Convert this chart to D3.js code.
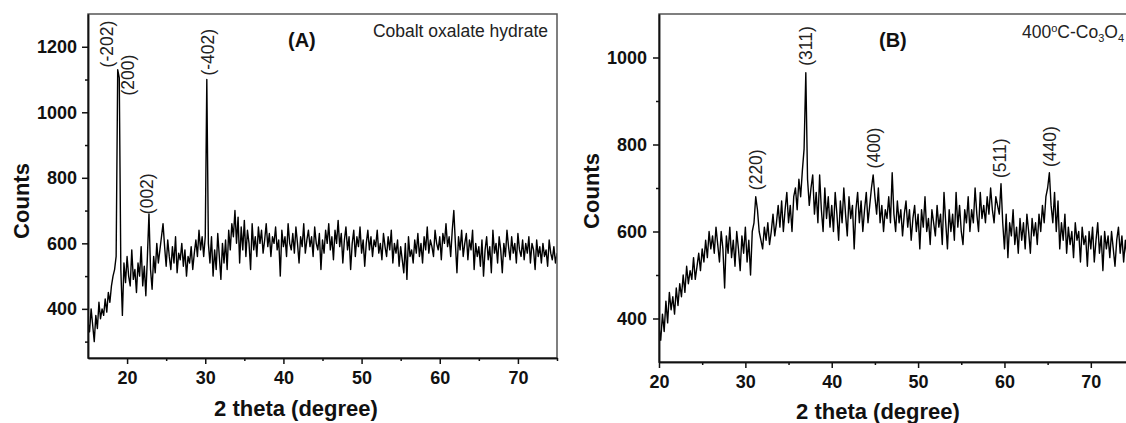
<!DOCTYPE html>
<html>
  <head>
    <meta charset="utf-8">
    <title>XRD patterns</title>
    <script src="https://d3js.org/d3.v7.min.js"></script>
    <style>
      body { margin: 0; background: #fff; }
      svg { display: block; font-family: "Liberation Sans", Arial, sans-serif; }
      .axis text { font-size: 18px; font-weight: bold; fill: #111; }
      .axis line, .axis path { stroke: #111; stroke-width: 1.5; }
      .axisTitle { font-size: 22px; font-weight: bold; fill: #111; }
      .panelTag { font-size: 20px; font-weight: bold; fill: #111; }
      .note, .peak { font-size: 17.5px; fill: #222; }
    </style>
  </head>
  <body>
    <svg id="chart" width="1126" height="423"></svg>
    <script>
      // panel A - cobalt oxalate hydrate, scan starts at 15 deg, 0.2 deg steps
      const startA = 15, stepA = 0.2;
      const countsA = [
        360, 330, 400, 350, 300, 380, 340, 420, 370, 400,
        380, 430, 390, 450, 420, 470, 500, 520, 560, 1130,
        1105, 520, 380, 540, 480, 560, 500, 470, 580, 490,
        520, 450, 540, 500, 590, 470, 530, 440, 560, 690,
        520, 460, 560, 510, 600, 540, 580, 620, 660, 590,
        530, 610, 560, 520, 590, 540, 620, 510, 570, 550,
        600, 530, 580, 500, 560, 540, 590, 520, 570, 610,
        560, 640, 580, 620, 560, 620, 1100, 600, 540, 620,
        500, 580, 520, 630, 560, 490, 600, 540, 610, 520,
        640, 580, 660, 620, 700, 600, 680, 540, 650, 580,
        670, 560, 640, 600, 520, 660, 580, 620, 560, 650,
        600, 640, 570, 610, 660, 590, 630, 560, 620, 600,
        650, 580, 610, 500, 640, 590, 620, 560, 660, 600,
        580, 630, 570, 650, 600, 540, 620, 590, 660, 570,
        610, 640, 590, 620, 560, 650, 600, 580, 630, 520,
        610, 570, 640, 600, 660, 580, 620, 550, 640, 600,
        670, 590, 630, 540, 610, 650, 580, 620, 520, 600,
        640, 560, 620, 590, 650, 570, 610, 530, 600, 640,
        580, 620, 560, 610, 590, 640, 570, 600, 550, 630,
        590, 560, 620, 580, 640, 540, 600, 570, 610, 530,
        590, 550, 510, 600, 490, 620, 560, 580, 540, 610,
        570, 630, 560, 600, 540, 620, 580, 650, 570, 610,
        590, 560, 640, 600, 580, 620, 550, 630, 600, 660,
        590, 620, 560, 640, 700, 600, 510, 620, 580, 640,
        560, 600, 630, 550, 610, 580, 640, 520, 600, 560,
        590, 530, 610, 500, 580, 620, 550, 590, 510, 640,
        570, 600, 540, 620, 580, 510, 600, 560, 640, 590,
        550, 620, 570, 600, 540, 630, 580, 560, 610, 550,
        600, 570, 620, 540, 600, 580, 520, 610, 560, 590,
        540, 600, 560, 580, 530, 610, 570, 550, 590, 540,
        570
      ];
      const peakNamesA = ["(-202)", "(200)", "(002)", "(-402)"];
      const peakThetaA = [17.45, 20.1, 22.55, 30.38];
      const peakCountA = [1137, 1051, 689, 1112];

      // panel B - Co3O4 after 400 C, scan starts at 20 deg, 0.2 deg steps
      const startB = 20, stepB = 0.2;
      const countsB = [
        380, 350, 410, 370, 440, 390, 460, 420, 450, 410,
        470, 430, 480, 450, 500, 460, 520, 480, 510, 490,
        540, 490, 520, 550, 510, 560, 530, 580, 540, 600,
        560, 590, 550, 610, 570, 530, 600, 560, 470, 590,
        550, 610, 540, 580, 520, 600, 560, 510, 590, 550,
        610, 530, 580, 500, 600, 620, 680, 650, 600, 580,
        560, 610, 580, 620, 570, 600, 640, 590, 620, 660,
        610, 670, 600, 650, 690, 620, 660, 600, 680, 700,
        650, 720, 680, 740, 790, 965, 720, 660, 700, 730,
        640, 690, 620, 730, 650, 600, 700, 630, 680, 610,
        660, 600, 690, 640, 580, 670, 620, 700, 640, 590,
        680, 630, 660, 560, 650, 690, 620, 670, 600, 650,
        690, 620, 660, 700, 730, 680, 640, 700, 620, 660,
        600, 650, 630, 680, 620, 735, 640, 600, 670, 620,
        650, 590, 640, 670, 610, 650, 580, 630, 660, 600,
        640, 560, 650, 610, 680, 600, 630, 570, 650, 620,
        590, 660, 610, 640, 570, 690, 620, 560, 650, 600,
        640, 580, 690, 610, 660, 600, 570, 650, 620, 680,
        600, 650, 620, 700, 640, 600, 690, 630, 660, 620,
        680, 640, 700, 650, 620, 680, 660, 640, 710, 620,
        560, 640, 540, 620, 590, 650, 570, 610, 550, 630,
        580, 620, 560, 640, 600, 550, 630, 590, 620, 570,
        640, 600, 660, 620, 680, 700, 735, 660, 620, 690,
        600, 670, 560, 620, 580, 640, 550, 610, 570, 600,
        540, 620, 580, 600, 530, 610, 570, 590, 520, 600,
        560, 610, 530, 580, 620, 550, 590, 510, 600, 560,
        590, 540, 600, 560, 520, 580, 610, 550, 590, 530,
        580, 540, 600, 500, 570,
        560
      ];
      const peakNamesB = ["(220)", "(311)", "(400)", "(511)", "(440)"];
      const peakThetaB = [31.24, 37.03, 44.91, 59.51, 65.31];
      const peakCountB = [695, 981, 745, 723, 748];

      // tick values
      const xMajor = [20, 30, 40, 50, 60, 70];
      const xMinor = [25, 35, 45, 55, 65];
      const yMajorA = [400, 600, 800, 1000, 1200];
      const yMinorA = [300, 500, 700, 900, 1100];
      const yMajorB = [400, 600, 800, 1000];
      const yMinorB = [500, 700, 900];

      const svg = d3.select("#chart");

      drawPanel({
        id: "A", start: startA, step: stepA, counts: countsA,
        names: peakNamesA, thetas: peakThetaA, peakCounts: peakCountA,
        yMajor: yMajorA, yMinor: yMinorA, minorX: xMinor.concat([75]),
        xDomain: [15, 75], yDomain: [250, 1300],
        left: 88, right: 557, top: 14, bottom: 358,
        yPad: 5, xTitle: [296, 416], yTitle: [29, 201],
        tag: "(A)", tagPos: [288, 47], note: "Cobalt oxalate hydrate", notePos: [548, 37]
      });
      drawPanel({
        id: "B", start: startB, step: stepB, counts: countsB,
        names: peakNamesB, thetas: peakThetaB, peakCounts: peakCountB,
        yMajor: yMajorB, yMinor: yMinorB, minorX: xMinor,
        xDomain: [20, 75], yDomain: [300, 1100],
        left: 659, right: 1134, top: 14, bottom: 362,
        yPad: 6, xTitle: [878, 419], yTitle: [599, 191],
        tag: "(B)", tagPos: [879, 47], note: null, notePos: [1124, 38]
      });

      function drawPanel(p) {
        const x = d3.scaleLinear().domain(p.xDomain).range([p.left, p.right]);
        const y = d3.scaleLinear().domain(p.yDomain).range([p.bottom, p.top]);
        const g = svg.append("g");
        // clip the trace to the plot box
        g.append("clipPath")
            .attr("id", "clip" + p.id)
          .append("rect")
            .attr("x", p.left).attr("y", p.top)
            .attr("width", p.right - p.left).attr("height", p.bottom - p.top);
        const points = p.counts.map(function(c, i) { return [p.start + i * p.step, c]; });
        g.append("path")
          .datum(points)
          .attr("clip-path", "url(#clip" + p.id + ")")
          .attr("fill", "none")
          .attr("stroke", "#000")
          .attr("stroke-width", 1.4)
          .attr("stroke-linejoin", "round")
          .attr("d", d3.line().x(function(d) { return x(d[0]); }).y(function(d) { return y(d[1]); }));
        // frame
        g.append("rect")
          .attr("x", p.left).attr("y", p.top)
          .attr("width", p.right - p.left).attr("height", p.bottom - p.top)
          .attr("fill", "none")
          .attr("stroke", "#555")
          .attr("stroke-width", 1.5);
        // axes, major then minor ticks
        g.append("g").attr("class", "axis")
          .attr("transform", "translate(0," + p.bottom + ")")
          .call(d3.axisBottom(x).tickValues(xMajor).tickSize(6).tickSizeOuter(0).tickPadding(7).tickFormat(d3.format("d")));
        g.append("g").attr("class", "axis")
          .attr("transform", "translate(0," + p.bottom + ")")
          .call(d3.axisBottom(x).tickValues(p.minorX).tickSize(3).tickSizeOuter(0).tickFormat(""));
        g.append("g").attr("class", "axis")
          .attr("transform", "translate(" + p.left + ",0)")
          .call(d3.axisLeft(y).tickValues(p.yMajor).tickSize(6).tickSizeOuter(0).tickPadding(p.yPad).tickFormat(d3.format("d")));
        g.append("g").attr("class", "axis")
          .attr("transform", "translate(" + p.left + ",0)")
          .call(d3.axisLeft(y).tickValues(p.yMinor).tickSize(3).tickSizeOuter(0).tickFormat(""));
        // titles
        g.append("text").attr("class", "axisTitle")
          .attr("x", p.xTitle[0]).attr("y", p.xTitle[1])
          .attr("text-anchor", "middle")
          .text("2 theta (degree)");
        g.append("text").attr("class", "axisTitle")
          .attr("transform", "translate(" + p.yTitle[0] + "," + p.yTitle[1] + ") rotate(-90)")
          .attr("text-anchor", "middle")
          .text("Counts");
        g.append("text").attr("class", "panelTag")
          .attr("x", p.tagPos[0]).attr("y", p.tagPos[1])
          .text(p.tag);
        if (p.note) {
          g.append("text").attr("class", "note")
            .attr("x", p.notePos[0]).attr("y", p.notePos[1])
            .attr("text-anchor", "end")
            .text(p.note);
        } else {
          const t = g.append("text").attr("class", "note")
            .attr("x", p.notePos[0]).attr("y", p.notePos[1])
            .attr("text-anchor", "end");
          t.append("tspan").text("400");
          t.append("tspan").attr("font-size", "11px").attr("dy", -6).text("o");
          t.append("tspan").attr("dy", 6).text("C-Co");
          t.append("tspan").attr("font-size", "11px").attr("dy", 4).text("3");
          t.append("tspan").attr("dy", -4).text("O");
          t.append("tspan").attr("font-size", "11px").attr("dy", 4).text("4");
        }
        // peak labels, reading upwards
        g.selectAll(".peak")
          .data(p.names)
          .enter().append("text")
            .attr("class", "peak")
            .attr("transform", function(d, i) { return "translate(" + x(p.thetas[i]) + "," + y(p.peakCounts[i]) + ") rotate(-90)"; })
            .attr("dy", "0.35em")
            .text(function(d) { return d; });
      }
    </script>
  </body>
</html>
